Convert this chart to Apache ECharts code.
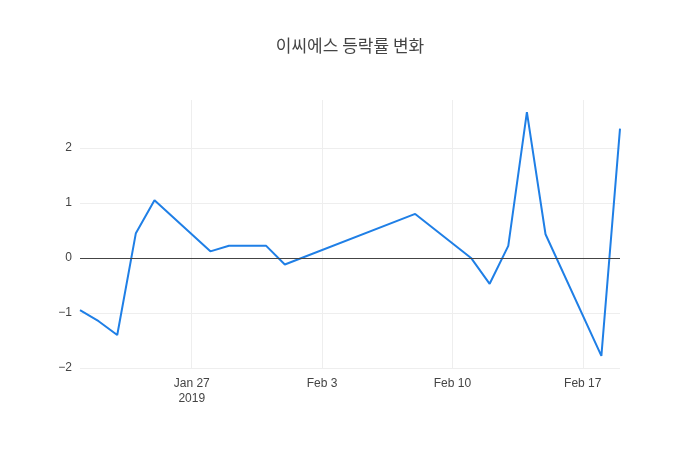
<!DOCTYPE html>
<html><head><meta charset="utf-8">
<script src="https://cdn.jsdelivr.net/npm/echarts@6/dist/echarts.min.js"></script>
<style>html,body{margin:0;background:#fff}#c{width:700px;height:450px}</style>
</head><body><div id="c"></div>
<script>
var dates = ['2019-01-21','2019-01-22','2019-01-23','2019-01-24','2019-01-25','2019-01-28','2019-01-29','2019-01-30','2019-01-31','2019-02-01','2019-02-08','2019-02-11','2019-02-12','2019-02-13','2019-02-14','2019-02-15','2019-02-18','2019-02-19'];
var values = [-0.95,-1.15,-1.4,0.45,1.05,0.12,0.22,0.22,0.22,-0.12,0.8,0.0,-0.47,0.22,2.65,0.43,-1.78,2.35];
var tickDates = ['2019-01-27','2019-02-03','2019-02-10','2019-02-17'];
var tickLabels = ['Jan 27\n2019','Feb 3','Feb 10','Feb 17'];
var yTicks = [-2,-1,0,1,2];

function ts(d){ return new Date(d + 'T00:00:00Z').getTime(); }
var tickTs = tickDates.map(ts);
var myChart = echarts.init(document.getElementById('c'));
var option = {
    title:{text:'이씨에스 등락률 변화',left:'center',top:32,
        textStyle:{fontFamily:'Noto Sans CJK KR',fontSize:17,fontWeight:'normal',color:'#444'}},
    grid:{left:80,right:80,top:100,bottom:82},
    xAxis:{
        type:'value', min:ts(dates[0]), max:ts(dates[dates.length-1]),
        axisLine:{show:false}, axisTick:{show:false, customValues:tickTs},
        splitLine:{show:true,lineStyle:{color:'#eee'}},
        axisLabel:{customValues:tickTs,color:'#444',fontSize:12,lineHeight:15,
            formatter:function(v){ var i = tickTs.indexOf(v); return i < 0 ? '' : tickLabels[i]; }}
    },
    yAxis:{
        type:'value', min:-2, max:2.87,
        axisLine:{show:false}, axisTick:{show:false, customValues:yTicks},
        splitLine:{lineStyle:{color:'#eee'}},
        axisLabel:{color:'#444',fontSize:12,customValues:yTicks,
            formatter:function(v){ return v < 0 ? '\u2212' + Math.abs(v) : String(v); }}
    },
    series:[{
        type:'line', data:dates.map(function(d,i){ return [ts(d), values[i]]; }),
        showSymbol:false, lineStyle:{color:'#1f7fe6',width:2}, itemStyle:{color:'#1f7fe6'},
        markLine:{silent:true,symbol:'none',label:{show:false},
            lineStyle:{color:'#444',width:1,type:'solid'},data:[{yAxis:0}]}
    }]
};
myChart.setOption(option);
</script></body></html>
